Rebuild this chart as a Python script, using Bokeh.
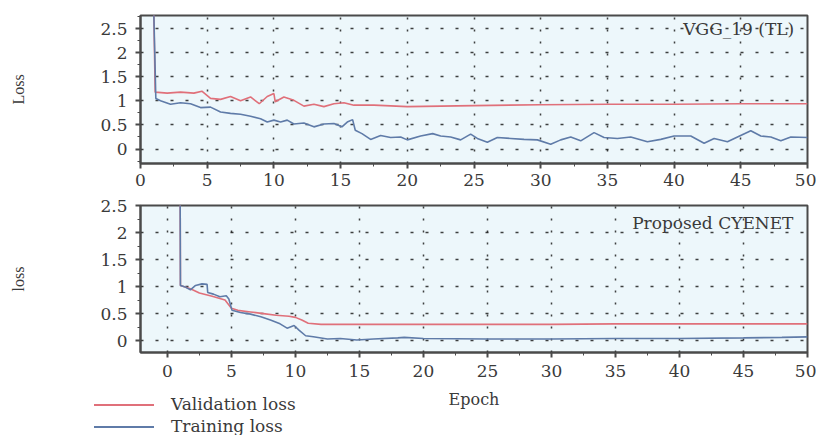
from bokeh.plotting import figure
from bokeh.layouts import column
from bokeh.models import Range1d, FixedTicker, Label, Div
from bokeh.embed import file_html
from bokeh.resources import INLINE

# ---------------- data ----------------
vgg_val_x = [1, 1.1, 2, 3, 4, 4.6, 5.25, 6, 6.75, 7.5, 8.25, 8.9, 9.5, 10, 10.1, 10.75,
             11.5, 12.25, 13, 13.75, 14.5, 15.25, 16, 17.5, 20, 25, 30, 35, 40, 45, 50]
vgg_val_y = [2.8, 1.18, 1.16, 1.18, 1.16, 1.20, 1.05, 1.03, 1.09, 1.00, 1.08, 0.94, 1.09, 1.15, 0.98, 1.08,
             1.01, 0.89, 0.93, 0.88, 0.94, 0.96, 0.91, 0.91, 0.88, 0.90, 0.92, 0.93, 0.93, 0.94, 0.94]

vgg_tr_x = [1, 1.15, 1.5, 2.25, 3, 3.75, 4.5, 5.25, 6, 6.75, 7.5, 8.25, 9, 9.5, 10, 10.5, 11, 11.5,
            12.25, 13, 13.75, 14.5, 15.1, 15.5, 15.9, 16.1, 16.6, 17.25, 18, 18.75, 19.5, 20, 21, 21.9,
            22.5, 23.25, 24, 24.75, 25.25, 26, 26.75, 27.75, 28.75, 29.75, 30.75, 31.5, 32.25, 33,
            34, 34.75, 35.75, 36.75, 38, 39, 40, 41.25, 42.25, 43, 44, 44.75, 45.75, 46.5, 47.25,
            48, 48.75, 50]
vgg_tr_y = [2.8, 1.05, 1.00, 0.93, 0.96, 0.94, 0.86, 0.87, 0.77, 0.74, 0.72, 0.68, 0.63, 0.56, 0.60, 0.56, 0.60, 0.52,
            0.54, 0.46, 0.52, 0.53, 0.46, 0.56, 0.61, 0.39, 0.32, 0.20, 0.28, 0.24, 0.25, 0.19, 0.27, 0.32,
            0.27, 0.25, 0.19, 0.31, 0.22, 0.14, 0.24, 0.22, 0.20, 0.19, 0.10, 0.19, 0.25, 0.17,
            0.34, 0.24, 0.22, 0.25, 0.15, 0.20, 0.27, 0.27, 0.12, 0.22, 0.15, 0.25, 0.38, 0.27, 0.25,
            0.17, 0.25, 0.24]

cye_val_x = [1, 1.02, 1.8, 2.5, 3.5, 4.5, 5, 5.5, 6.5, 7.5, 8.5, 9.5, 10, 10.5, 11, 12, 15, 20, 25,
             30, 35, 40, 45, 50]
cye_val_y = [2.6, 1.02, 0.96, 0.88, 0.82, 0.75, 0.60, 0.56, 0.53, 0.50, 0.47, 0.45, 0.43, 0.38, 0.32, 0.30, 0.30, 0.30, 0.30,
             0.30, 0.31, 0.31, 0.31, 0.31]

cye_tr_x = [1, 1.02, 1.4, 1.8, 2.2, 2.7, 3.1, 3.15, 3.6, 4.1, 4.6, 4.8, 5.05, 5.7, 6.5, 7.3, 8.05, 8.8,
            9.35, 9.9, 10.3, 10.8, 11.4, 12.5, 13.5, 14.8, 16.1, 18, 18.5, 20, 25, 30, 35, 40, 45, 48, 50]
cye_tr_y = [2.6, 1.02, 0.99, 0.94, 1.02, 1.05, 1.04, 0.89, 0.86, 0.81, 0.83, 0.77, 0.56, 0.52, 0.49, 0.44, 0.38, 0.31,
            0.23, 0.28, 0.19, 0.09, 0.07, 0.03, 0.04, 0.01, 0.03, 0.05, 0.06, 0.04, 0.03, 0.03, 0.04, 0.04, 0.05, 0.06, 0.07]

x_ticks = [0, 5, 10, 15, 20, 25, 30, 35, 40, 45, 50]
x_minor = [2.5, 7.5, 12.5, 17.5, 22.5, 27.5, 32.5, 37.5, 42.5, 47.5]
y_ticks = [0, 0.5, 1, 1.5, 2, 2.5]
y_tick_labels = ["0", "0.5", "1", "1.5", "2", "2.5"]
y_minor = [-0.25, 0.25, 0.75, 1.25, 1.75, 2.25, 2.75]

titles = ["VGG_19 (TL)", "Proposed CYENET"]
series_names = ["Validation loss", "Training loss"]
x_title = "Epoch"

RED = "#e0707a"
BLUE = "#5f7ba8"
FONT = "DejaVu Serif"
FONT2 = "Liberation Serif"
TXT = "#3a3a3a"
W = 816


def style(p, ylabel):
    p.background_fill_color = "#edf7fb"
    p.border_fill_color = "white"
    p.outline_line_color = "#4a4a4a"
    p.outline_line_width = 2
    p.xaxis.ticker = FixedTicker(ticks=x_ticks, minor_ticks=x_minor)
    p.yaxis.ticker = FixedTicker(ticks=y_ticks, minor_ticks=y_minor)
    p.yaxis.major_label_overrides = {t: l for t, l in zip(y_ticks, y_tick_labels)}
    for ax in (p.xaxis, p.yaxis):
        ax.axis_line_color = "#4a4a4a"
        ax.axis_line_width = 2
        ax.major_tick_line_color = "#4a4a4a"
        ax.minor_tick_line_color = "#4a4a4a"
        ax.major_tick_line_width = 2
        ax.major_tick_out = 5
        ax.major_tick_in = 0
        ax.minor_tick_out = 3
        ax.minor_tick_in = 0
        ax.major_label_text_font = FONT
        ax.major_label_text_font_size = "17px"
        ax.major_label_text_color = TXT
        ax.axis_label_text_font = FONT2
        ax.axis_label_text_font_style = "normal"
        ax.axis_label_text_font_size = "16px"
        ax.axis_label_text_color = TXT
    p.yaxis.axis_label = ylabel
    p.yaxis.major_label_orientation = "horizontal"
    p.yaxis.major_label_standoff = 8
    p.yaxis.axis_label_standoff = 70
    for g in (p.xgrid, p.ygrid):
        g.grid_line_color = "#111111"
        g.grid_line_alpha = 0.8
        g.grid_line_width = 1.5
    p.xgrid.grid_line_dash = "2 10"
    p.ygrid.grid_line_dash = "3 12"
    p.xgrid.ticker = FixedTicker(ticks=x_ticks)
    p.ygrid.ticker = FixedTicker(ticks=y_ticks)


# ---------------- top figure ----------------
p1 = figure(frame_width=667, frame_height=148, output_backend="svg", toolbar_location=None,
            x_range=Range1d(0, 50), y_range=Range1d(-0.3, 2.77),
            min_border_left=140, min_border_right=W - 807, min_border_top=15, min_border_bottom=30)
style(p1, "Loss")
p1.xaxis.major_label_standoff = 5
p1.line(vgg_val_x, vgg_val_y, color=RED, line_width=1.6)
p1.line(vgg_tr_x, vgg_tr_y, color=BLUE, line_width=1.6)
p1.add_layout(Label(x=49, y=2.5, text=titles[0], text_align="right", text_baseline="middle",
                    text_font=FONT, text_font_size="17px", text_color=TXT))

# ---------------- bottom figure ----------------
p2 = figure(frame_width=667, frame_height=147, output_backend="svg", toolbar_location=None,
            x_range=Range1d(-2.1, 50), y_range=Range1d(-0.22, 2.5),
            min_border_left=140, min_border_right=W - 807, min_border_top=12, min_border_bottom=30)
style(p2, "loss")
p2.xaxis.major_label_standoff = 7
p2.line(cye_val_x, cye_val_y, color=RED, line_width=1.6)
p2.line(cye_tr_x, cye_tr_y, color=BLUE, line_width=1.6)
p2.add_layout(Label(x=48.9, y=2.18, text=titles[1], text_align="right", text_baseline="middle",
                    text_font=FONT, text_font_size="17px", text_color=TXT))

# ---------------- legend / x-title strip ----------------
def legend_row(color, label, top):
    return (f'<div style="position:absolute;left:89px;top:{top + 11}px;width:60px;height:0;'
            f'border-top:2px solid {color};"></div>'
            f'<div style="position:absolute;left:166px;top:{top}px;line-height:22px;white-space:nowrap;">{label}</div>')

html = (f'<div style="position:relative;width:{W}px;height:46px;font-family:\'DejaVu Serif\';'
        f'font-size:17px;color:{TXT};">'
        + legend_row(RED, series_names[0], 6)
        + legend_row(BLUE, series_names[1], 28)
        + f'<div style="position:absolute;left:419px;width:100px;text-align:center;top:2px;'
          f'line-height:22px;font-size:16px;">{x_title}</div>'
        + '</div>')
p3 = Div(text=html, width=W, height=46)

layout = column(p1, p2, p3, spacing=0)
open("out.html", "w").write(file_html(layout, INLINE))
